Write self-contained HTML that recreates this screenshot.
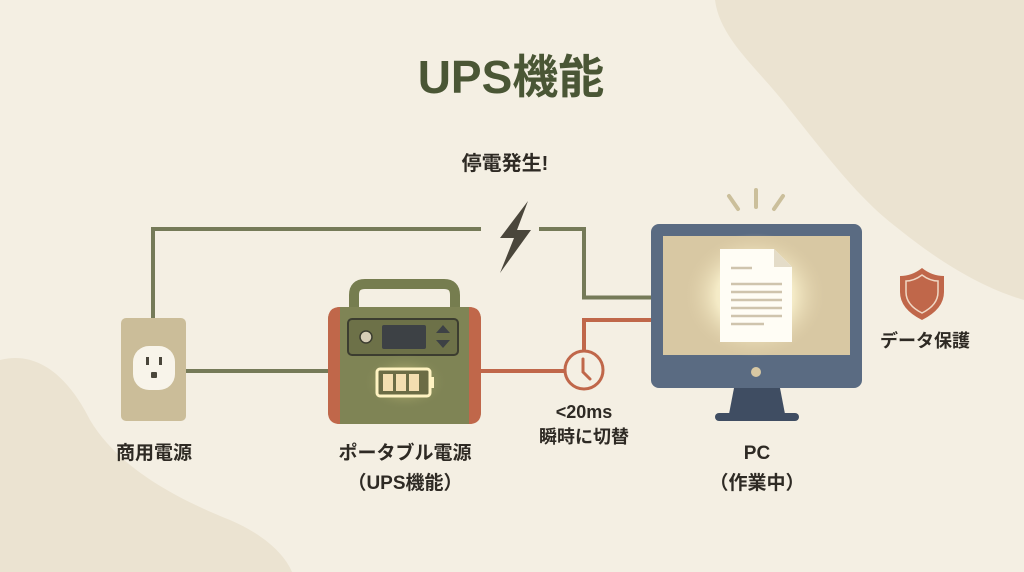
<!DOCTYPE html>
<html><head><meta charset="utf-8"><style>
html,body{margin:0;padding:0;width:1024px;height:572px;overflow:hidden;background:#f4efe3}
svg{display:block}
text{font-family:"Liberation Sans","Noto Sans CJK JP",sans-serif;font-weight:bold;fill:#2e2a24;text-anchor:middle}
</style></head><body>
<svg width="1024" height="572" viewBox="0 0 1024 572" xmlns="http://www.w3.org/2000/svg">
<defs>
<radialGradient id="glow" cx="50%" cy="50%" r="50%"><stop offset="0" stop-color="#fffbe0" stop-opacity="1"/><stop offset="0.55" stop-color="#fbf3cf" stop-opacity="0.8"/><stop offset="1" stop-color="#e0cfa9" stop-opacity="0"/></radialGradient>
<radialGradient id="bglow" cx="50%" cy="50%" r="50%"><stop offset="0" stop-color="#e8dc90" stop-opacity="0.9"/><stop offset="1" stop-color="#7f8455" stop-opacity="0"/></radialGradient>
</defs>
<path d="M715 0 C720 40 760 70 790 110 C830 160 860 200 900 230 C950 270 990 290 1024 300 L1024 0 Z" fill="#ebe3d1"/>
<path d="M0 360 C40 350 70 380 90 420 C120 470 180 500 230 520 C265 535 285 555 292 572 L0 572 Z" fill="#ebe3d1"/>
<text x="511" y="93" font-size="46" style="fill:#4a5635">UPS機能</text>
<text x="505" y="170" font-size="20">停電発生!</text>
<g fill="none" stroke-width="4">
<path d="M153 318 V229 H481" stroke="#757a58"/>
<path d="M539 229 H584 V297.5 H651" stroke="#757a58"/>
<path d="M186 371 H330" stroke="#757a58"/>
<path d="M480 371 H564" stroke="#c0674a"/>
<path d="M584 351 V320 H651" stroke="#c0674a"/>
</g>
<path d="M528 201 L500 238 L514 238 L500 273 L531 230 L517 230 Z" fill="#4a463b"/>
<rect x="121" y="318" width="65" height="103" rx="5" fill="#cbbd99"/>
<rect x="133" y="346" width="42" height="44" rx="16" fill="#f8f4ea"/>
<rect x="146" y="357" width="3" height="8" fill="#4a463b"/><rect x="159" y="357" width="3" height="8" fill="#4a463b"/>
<rect x="151" y="372" width="6" height="6" rx="1" fill="#4a463b"/>
<path d="M354 318 V295 Q354 284 365 284 H444 Q455 284 455 295 V318" fill="none" stroke="#767d4f" stroke-width="10"/>
<rect x="328" y="307" width="153" height="117" rx="12" fill="#7f8455"/>
<path d="M328 320 Q328 307 340 307 V424 Q328 424 328 412 Z" fill="#c0674a"/>
<path d="M481 320 Q481 307 469 307 V424 Q481 424 481 412 Z" fill="#c0674a"/>
<rect x="348" y="319" width="110" height="36" rx="4" fill="#6d7148" stroke="#3c3d30" stroke-width="2"/>
<circle cx="366" cy="337" r="6" fill="#d6cdb6" stroke="#3c3d30" stroke-width="1.5"/>
<rect x="382" y="325" width="44" height="24" rx="2" fill="#3d4145"/>
<path d="M436 333 L443 325 L450 333 Z M436 340 L450 340 L443 348 Z" fill="#3d4145"/>
<ellipse cx="405" cy="382" rx="42" ry="28" fill="url(#bglow)"/>
<rect x="377" y="369" width="53" height="27" rx="3" fill="#6b6c45" stroke="#fff3c2" stroke-width="3"/>
<rect x="430" y="377" width="4" height="11" fill="#fff3c2"/>
<rect x="383" y="374" width="10" height="17" fill="#f3deb0"/><rect x="396" y="374" width="10" height="17" fill="#f3deb0"/><rect x="409" y="374" width="10" height="17" fill="#f3deb0"/>
<circle cx="584" cy="370" r="19" fill="#f4efe3" stroke="#c0674a" stroke-width="3"/>
<path d="M583 359 V372 L590 379" fill="none" stroke="#c0674a" stroke-width="3" stroke-linecap="round"/>
<g stroke="#cbbf9b" stroke-width="4" stroke-linecap="round"><path d="M756 190 V207"/><path d="M729 196 L738 209"/><path d="M783 196 L774 209"/></g>
<rect x="651" y="224" width="211" height="164" rx="8" fill="#5a6b82"/>
<rect x="663" y="236" width="187" height="119" fill="#d8c8a3"/>
<ellipse cx="755" cy="295" rx="70" ry="62" fill="url(#glow)"/>
<path d="M720 249 H774 L792 267 V342 H720 Z" fill="#fffdf5"/>
<path d="M774 249 V267 H792 Z" fill="#e4dcc8"/>
<g stroke="#cfc4ad" stroke-width="2.5"><path d="M731 268 H752"/><path d="M731 284 H782"/><path d="M731 292 H782"/><path d="M731 300 H782"/><path d="M731 308 H782"/><path d="M731 316 H782"/><path d="M731 324 H764"/></g>
<circle cx="756" cy="372" r="5" fill="#d8c8a3"/>
<path d="M734 388 H780 L785 414 H729 Z" fill="#3f4d62"/>
<rect x="715" y="413" width="84" height="8" rx="4" fill="#3f4d62"/>
<path d="M922 268 Q932 276 944 276 V292 Q944 309 922 320 Q900 309 900 292 V276 Q912 276 922 268 Z" fill="#c0674a"/>
<path d="M922 275 Q930 281 938 281 V292 Q938 305 922 313 Q906 305 906 292 V281 Q914 281 922 275 Z" fill="none" stroke="#f0d8c5" stroke-width="1.5"/>
<text x="925" y="347" font-size="18">データ保護</text>
<text x="154" y="459" font-size="19">商用電源</text>
<text x="405" y="459" font-size="19">ポータブル電源</text>
<text x="405" y="489" font-size="19">（UPS機能）</text>
<text x="584" y="418" font-size="18">&lt;20ms</text>
<text x="584" y="443" font-size="18">瞬時に切替</text>
<text x="757" y="459" font-size="19">PC</text>
<text x="757" y="489" font-size="19">（作業中）</text>
</svg>
</body></html>
